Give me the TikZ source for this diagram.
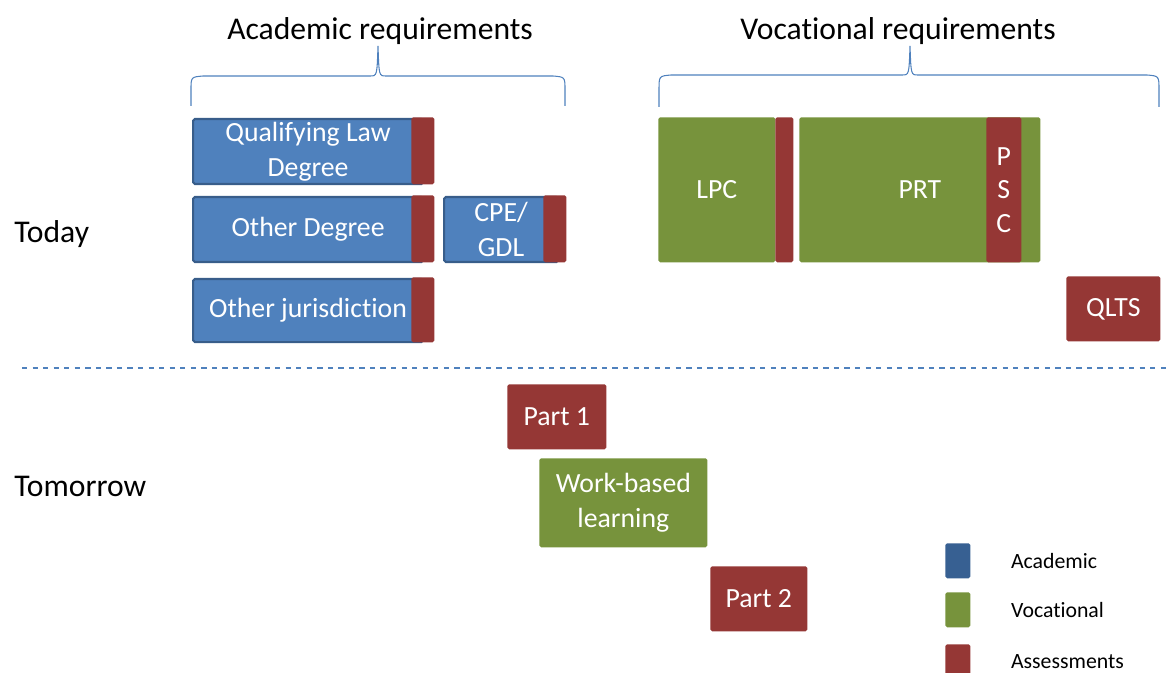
\documentclass[tikz,border=0pt]{standalone}
\usepackage{fontspec}
\setmainfont{Carlito}[RawFeature={-liga;-clig;-dlig;-calt}]
\usepackage{tikz}
\usetikzlibrary{positioning}

\definecolor{acadblue}{RGB}{79, 129, 189}
\definecolor{acadedge}{RGB}{56, 93, 138}
\definecolor{vocgreen}{RGB}{119, 147, 60}
\definecolor{assessred}{RGB}{149, 55, 53}
\definecolor{keyblue}{RGB}{55, 96, 146}

\begin{document}
\begin{tikzpicture}[
  box/.style={rectangle, anchor=north west, inner sep=0pt, rounded corners=1pt, text=white, align=center, font=\fontsize{15.8}{20.2}\selectfont},
  acad/.style={box, fill=acadblue, draw=acadedge, line width=1.2pt},
  voc/.style={box, fill=vocgreen},
  assess/.style={box, fill=assessred},
  keybox/.style={rectangle, anchor=north west, inner sep=0pt, rounded corners=1pt, minimum width=0.50cm, minimum height=0.70cm},
  keytext/.style={inner sep=0pt, anchor=west, font=\fontsize{12.4}{15}\selectfont},
  heading/.style={font=\fontsize{18}{22}\selectfont},
  reqbrace/.style={draw=acadblue, line width=0.6pt},
  divider/.style={draw=acadblue, line width=0.6pt, dashed}
]
  \useasboundingbox (0,0) rectangle (23.42,-13.46);

  % headings and braces
  \node[heading] (acadreq) at (7.60,-0.62) {Academic requirements};
  \node[heading] (vocreq) at (17.96,-0.62) {Vocational requirements};
  \path[reqbrace] (3.82,-2.12) -- (3.82,-1.80) .. controls (3.82,-1.54) .. (4.06,-1.52)
    -- (7.40,-1.52) .. controls (7.54,-1.52) .. (7.56,-0.92)
    .. controls (7.58,-1.52) .. (7.72,-1.52) -- (11.06,-1.52)
    .. controls (11.30,-1.54) .. (11.30,-1.80) -- (11.30,-2.12);
  \path[reqbrace] (13.18,-2.14) -- (13.18,-1.80) .. controls (13.18,-1.52) .. (13.42,-1.50)
    -- (18.04,-1.50) .. controls (18.18,-1.50) .. (18.20,-0.92)
    .. controls (18.22,-1.50) .. (18.36,-1.50) -- (22.94,-1.50)
    .. controls (23.18,-1.52) .. (23.18,-1.80) -- (23.18,-2.14);

  \node[heading, anchor=west, inner sep=0pt] (today) at (0.28,-4.68) {Today};
  \node[heading, anchor=west, inner sep=0pt] (tomorrow) at (0.28,-9.72) {Tomorrow};

  % academic stage
  \node[acad, minimum width=4.60cm, minimum height=1.30cm] (qld) at (3.84,-2.36) {Qualifying Law\\Degree};
  \node[assess, minimum width=0.46cm, minimum height=1.34cm] (qldA) at (8.22,-2.34) {};
  \node[acad, minimum width=4.60cm, minimum height=1.30cm] (othdeg) at (3.84,-3.92) {Other Degree};
  \node[assess, minimum width=0.46cm, minimum height=1.34cm] (othdegA) at (8.22,-3.90) {};
  \node[acad, minimum width=2.28cm, minimum height=1.30cm] (cpe) at (8.86,-3.92) {CPE/\\GDL};
  \node[assess, minimum width=0.46cm, minimum height=1.34cm] (cpeA) at (10.86,-3.90) {};
  \node[acad, minimum width=4.60cm, minimum height=1.26cm] (othjur) at (3.84,-5.56) {Other jurisdiction};
  \node[assess, minimum width=0.46cm, minimum height=1.30cm] (othjurA) at (8.22,-5.54) {};

  % vocational stage
  \node[voc, minimum width=2.34cm, minimum height=2.90cm] (lpc) at (13.16,-2.34) {LPC};
  \node[assess, minimum width=0.36cm, minimum height=2.90cm] (lpcA) at (15.50,-2.34) {};
  \node[voc, minimum width=4.82cm, minimum height=2.90cm] (prt) at (15.98,-2.34) {PRT};
  \node[assess, minimum width=0.70cm, minimum height=2.90cm, font=\fontsize{15.8}{19}\selectfont] (psc) at (19.72,-2.34) {P\\S\\C};
  \node[assess, minimum width=1.88cm, minimum height=1.30cm] (qlts) at (21.32,-5.52) {QLTS};

  \draw[divider] (0.44,-7.36) -- (23.42,-7.36);

  % new route
  \node[assess, minimum width=1.98cm, minimum height=1.30cm] (part1) at (10.14,-7.68) {Part 1};
  \node[voc, minimum width=3.36cm, minimum height=1.78cm] (wbl) at (10.78,-9.16) {Work-based\\learning};
  \node[assess, minimum width=1.94cm, minimum height=1.30cm] (part2) at (14.20,-11.32) {Part 2};

  % key
  \node[keybox, fill=keyblue] (keyAcad) at (18.90,-10.86) {};
  \node[keybox, fill=vocgreen] (keyVoc) at (18.90,-11.84) {};
  \node[keybox, fill=assessred] (keyAss) at (18.90,-12.88) {};
  \node[keytext, right=0.80cm of keyAcad] (keyAcadT) {Academic};
  \node[keytext, right=0.80cm of keyVoc] (keyVocT) {Vocational};
  \node[keytext, right=0.80cm of keyAss] (keyAssT) {Assessments};
\end{tikzpicture}
\end{document}
